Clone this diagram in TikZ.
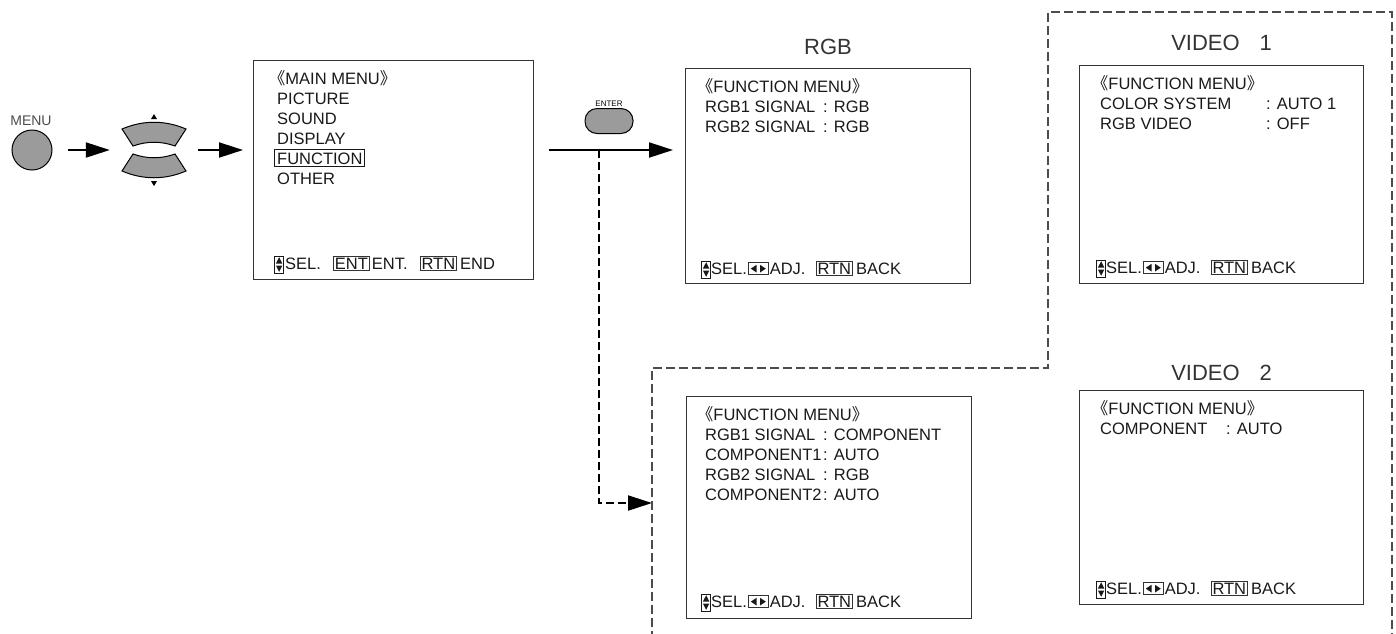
\documentclass[tikz,border=0pt]{standalone}
\usepackage{fontspec}
\setmainfont{Liberation Sans}
\newfontfamily\cjk{Noto Sans CJK JP}
\usetikzlibrary{arrows.meta}

\definecolor{keygray}{HTML}{9B9B9B}
\definecolor{linegray}{HTML}{333333}

\newcommand{\menufont}{\fontsize{16.5}{20}\selectfont}
\newcommand{\titlefont}{\fontsize{22}{26}\selectfont}
\newcommand{\lbr}{\hspace*{-0.5em}{\cjk 《}}
\newcommand{\rbr}{{\cjk 》}}
\newcommand{\optline}[3]{\makebox[#1][l]{#2}: #3}
\newcommand{\keycap}[1]{{\setlength{\fboxsep}{1.2pt}\setlength{\fboxrule}{0.8pt}\fcolorbox{linegray}{white}{#1}}}
\newcommand{\selicon}{\tikz[baseline=0pt,x=1pt,y=1pt]{\draw[line width=0.9pt] (0,-4) rectangle (9,13);
  \fill (4.5,11.8) -- (1.3,5.5) -- (7.7,5.5) -- cycle; \fill (4.5,-2.8) -- (1.3,3.5) -- (7.7,3.5) -- cycle;}}
\newcommand{\adjicon}{\tikz[baseline=0pt,x=1pt,y=1pt]{\draw[line width=0.9pt,linegray] (0,-0.8) rectangle (20,11.5);
  \fill (2.5,5.35) -- (8.3,1.5) -- (8.3,9.2) -- cycle; \fill (17.5,5.35) -- (11.7,1.5) -- (11.7,9.2) -- cycle;}}
\newcommand{\subfoot}{\selicon SEL.\hspace{1pt}\adjicon\hspace{1pt}ADJ.\hspace{10pt}\keycap{RTN}\hspace{3pt}BACK}

\begin{document}
\begin{tikzpicture}[x=1pt,y=-1pt,
    screen/.style={draw=linegray,line width=1.1pt,anchor=north west,inner sep=0pt,minimum width=285pt},
    menutext/.style={anchor=base west,inner sep=0pt,align=left,font=\menufont,text=black!90},
    title/.style={anchor=base,inner sep=0pt,font=\titlefont,text=black!80},
    btn/.style={draw=black,line width=1pt,fill=keygray},
    flow/.style={line width=2pt,-{Triangle[length=24pt,width=15pt]}},
    dashframe/.style={draw=black!70,line width=2.6pt,dash pattern=on 9pt off 4pt}]
    \useasboundingbox (0,0) rectangle (1396,633);

    \node[menutext,anchor=base,font=\fontsize{14}{16}\selectfont,text=black!70] (menulabel) at (31,125) {MENU};
    \node[btn,circle,minimum size=40pt,inner sep=0pt] (menubtn) at (32,150) {};

    \node[minimum width=64pt,minimum height=66pt,inner sep=0pt] (pad) at (154,150) {};
    \draw[btn] (122,129) .. controls (143,120) and (165,120) .. (186,129) -- (175,146)
        .. controls (161,141) and (147,141) .. (133,146) -- cycle;
    \draw[btn] (122,171) .. controls (143,180) and (165,180) .. (186,171) -- (175,154)
        .. controls (161,159) and (147,159) .. (133,154) -- cycle;
    \fill (154,114) -- (151,119) -- (157,119) -- cycle;
    \fill (154,186) -- (151,181) -- (157,181) -- cycle;

    \node[screen,minimum width=280pt,minimum height=219pt] (mainmenu) at (253,60) {};
    \node[screen,minimum height=215pt] (rgbscreen) at (685,68) {};
    \node[screen,minimum width=284pt,minimum height=218pt] (videoone) at (1079,65) {};
    \node[screen,minimum height=222pt] (compscreen) at (686,396) {};
    \node[screen,minimum width=284pt,minimum height=214pt] (videotwo) at (1079,390) {};

    \node[title] (rgbtitle) at (rgbscreen.north |- 0,54) {RGB};
    \node[title] (videoonetitle) at (videoone.north |- 0,50) {VIDEO\hspace{0.9em}1};
    \node[title] (videotwotitle) at (videotwo.north |- 0,380) {VIDEO\hspace{0.9em}2};

    \node[menutext] (mainlines) at (277,184) {\lbr MAIN MENU\rbr\\PICTURE\\SOUND\\DISPLAY\\
        \hspace*{-3pt}{\setlength{\fboxsep}{2pt}\setlength{\fboxrule}{1pt}\fbox{FUNCTION}}\\OTHER};
    \node[menutext] (mainfoot) at (274,269) {\selicon\hspace{1pt}SEL.\hspace{12pt}\keycap{ENT}\hspace{2pt}ENT.\hspace{12pt}\keycap{RTN}\hspace{3pt}END};

    \node[menutext] (rgblines) at (705,132) {\lbr FUNCTION MENU\rbr\\
        \optline{118pt}{RGB1 SIGNAL}{RGB}\\\optline{118pt}{RGB2 SIGNAL}{RGB}};
    \node[menutext] (rgbfoot) at (701,274) {\subfoot};

    \node[menutext] (videoonelines) at (1100,129) {\lbr FUNCTION MENU\rbr\\
        \optline{166pt}{COLOR SYSTEM}{AUTO 1}\\\optline{166pt}{RGB VIDEO}{OFF}};
    \node[menutext] (videoonefoot) at (1096,273) {\subfoot};

    \node[menutext] (complines) at (705,500) {\lbr FUNCTION MENU\rbr\\
        \optline{118pt}{RGB1 SIGNAL}{COMPONENT}\\\optline{118pt}{COMPONENT1}{AUTO}\\
        \optline{118pt}{RGB2 SIGNAL}{RGB}\\\optline{118pt}{COMPONENT2}{AUTO}};
    \node[menutext] (compfoot) at (701,607) {\subfoot};

    \node[menutext] (videotwolines) at (1100,434) {\lbr FUNCTION MENU\rbr\\
        \optline{126pt}{COMPONENT}{AUTO}};
    \node[menutext] (videotwofoot) at (1096,594) {\subfoot};

    \node[btn,rounded corners=12pt,minimum width=48pt,minimum height=25pt,inner sep=0pt] (enterkey) at (609,121) {};
    \node[anchor=base,inner sep=0pt,font=\fontsize{8}{9}\selectfont] (enterlabel) at (609,106) {ENTER};

    \draw[flow,shorten <=15pt,shorten >=12pt] (menubtn) -- (pad);
    \draw[flow,shorten <=12pt,shorten >=10pt] (pad) -- (mainmenu.west |- pad);
    \draw[flow,shorten <=15pt,shorten >=12pt] (mainmenu.east |- pad) -- (rgbscreen.west |- pad);
    \coordinate (branch) at (599,150);
    \draw[flow,dash pattern=on 8pt off 4pt,shorten >=34pt] (branch) |- (compscreen.west |- 0,503);

    \draw[dashframe] (652,640) |- (1048,368) |- (1392,12) -- (1392,640);
\end{tikzpicture}
\end{document}
